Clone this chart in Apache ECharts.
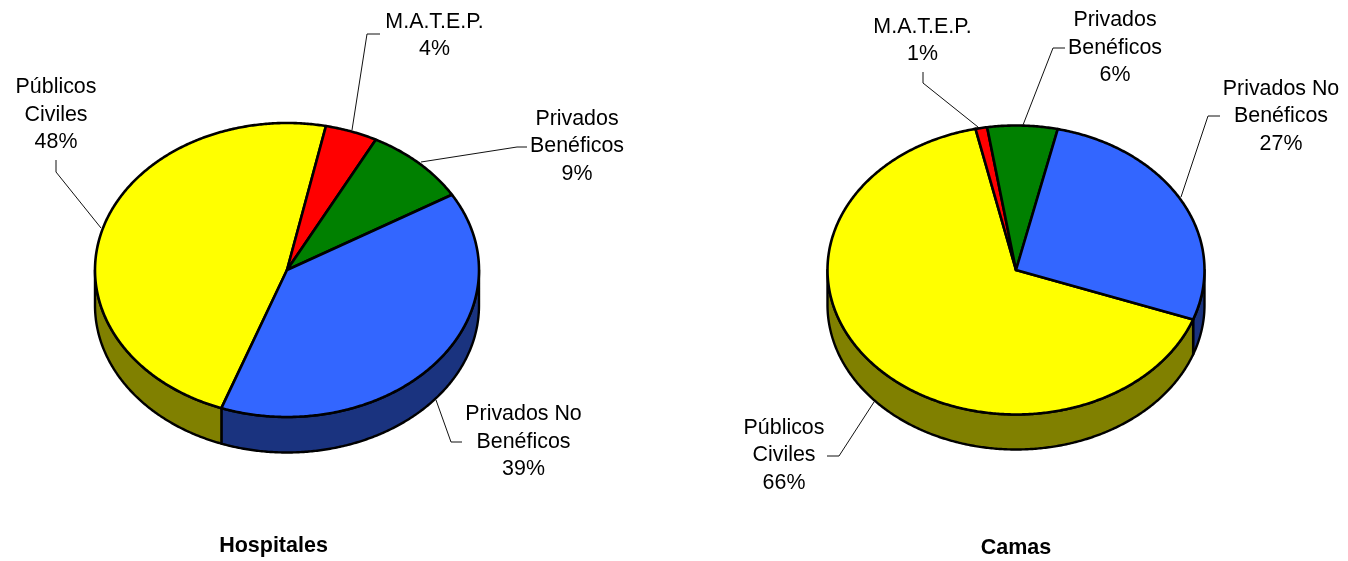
<!DOCTYPE html>
<html>
<head>
<meta charset="utf-8">
<style>html,body{margin:0;padding:0;background:#fff}#c{width:1348px;height:561px}</style>
<script src="https://cdn.jsdelivr.net/npm/echarts@6/dist/echarts.min.js"></script>
</head>
<body>
<div id="c"></div>
<script>
// ---- data ----
var categories = ['M.A.T.E.P.', 'Privados\nBenéficos', 'Privados No\nBenéficos', 'Públicos\nCiviles'];
var hospitales = [4.4, 8.8, 39.1, 47.7];
var camas = [1, 6, 27, 66];
var pieTitles = ['Hospitales', 'Camas'];

// ---- styles ----
var topColors = ['#ff0000', '#008000', '#3366ff', '#ffff00'];
var wallColors = ['#800000', '#004000', '#1a337f', '#808000'];
var FONT = '"Liberation Sans", Arial, sans-serif';

// ---- layout (pixels) ----
var layouts = [
  { cx: 287, cy: 270, rx: 192, ry: 147, depth: 35.5, start: 11.7,
    labels: [[434.5, 35.5], [577, 146.5], [523.5, 442], [56, 115]],
    leaders: [
      [[352, 130], [367, 34], [380, 34]],
      [[421, 162], [517, 147], [527, 147]],
      [[436, 400], [451, 442], [462, 442]],
      [[101, 228], [56, 172], [56, 160]]
    ] },
  { cx: 1016, cy: 270, rx: 188.5, ry: 144.5, depth: 35, start: -12.4,
    labels: [[922.5, 40.5], [1115, 48], [1281, 116.5], [784, 455.5]],
    leaders: [
      [[978, 127], [923, 83], [923, 72]],
      [[1023, 125], [1053, 48], [1065, 48]],
      [[1181, 197], [1208, 116], [1220, 116]],
      [[874, 402], [839, 456], [827, 456]]
    ] }
];

function pt(L, deg, dy) {
  var r = deg * Math.PI / 180;
  return [L.cx + L.rx * Math.sin(r), L.cy - L.ry * Math.cos(r) + (dy || 0)];
}
function arc(L, a0, a1, dy) {
  var n = Math.max(2, Math.ceil(Math.abs(a1 - a0) * 2)), out = [];
  for (var i = 0; i <= n; i++) out.push(pt(L, a0 + (a1 - a0) * i / n, dy));
  return out;
}
function makeSeries(values, L) {
  var total = values.reduce(function (a, b) { return a + b; }, 0);
  return {
    type: 'custom',
    coordinateSystem: 'none',
    silent: true,
    animation: false,
    data: values.map(function (v, i) { return { value: [v, i] }; }),
    renderItem: function (params, api) {
      var i = api.value(1), v = api.value(0), before = 0;
      for (var k = 0; k < i; k++) before += values[k];
      var a0 = L.start + before / total * 360;
      var a1 = a0 + v / total * 360;
      var kids = [];
      // visible front part of the wall: 90..270 degrees (also the +360 turn)
      [[90, 270], [450, 630]].forEach(function (f) {
        var s = Math.max(a0, f[0]), e = Math.min(a1, f[1]);
        if (e > s) {
          kids.push({
            type: 'polygon', z2: 1,
            shape: { points: arc(L, s, e, 0).concat(arc(L, e, s, L.depth)) },
            style: { fill: wallColors[i], stroke: '#000', lineWidth: 2.4, lineJoin: 'round' }
          });
        }
      });
      // top face
      kids.push({
        type: 'polygon', z2: 2 + (i === 3 ? 0 : 1),
        shape: { points: [[L.cx, L.cy]].concat(arc(L, a0, a1, 0)) },
        style: { fill: topColors[i], stroke: '#000', lineWidth: 2.6, lineJoin: 'round' }
      });
      // leader
      kids.push({
        type: 'polyline', z2: 5,
        shape: { points: L.leaders[i] },
        style: { fill: 'none', stroke: '#111', lineWidth: 1 }
      });
      // label
      kids.push({
        type: 'text', z2: 6,
        style: {
          text: categories[i] + '\n' + Math.round(v / total * 100) + '%',
          x: L.labels[i][0], y: L.labels[i][1],
          align: 'center', verticalAlign: 'middle',
          font: '21.4px ' + FONT, lineHeight: 27.5, fill: '#000'
        }
      });
      return { type: 'group', children: kids };
    }
  };
}

var chart = echarts.init(document.getElementById('c'), null, { renderer: 'canvas' });
chart.setOption({
  animation: false,
  backgroundColor: '#fff',
  title: [
    { text: pieTitles[0], left: 268.5, top: 530.5, textAlign: 'center',
      textStyle: { fontFamily: FONT, fontSize: 21.5, fontWeight: 'bold', color: '#000' } },
    { text: pieTitles[1], left: 1011, top: 532.5, textAlign: 'center',
      textStyle: { fontFamily: FONT, fontSize: 21.5, fontWeight: 'bold', color: '#000' } }
  ],
  series: [makeSeries(hospitales, layouts[0]), makeSeries(camas, layouts[1])]
});
</script>
</body>
</html>
